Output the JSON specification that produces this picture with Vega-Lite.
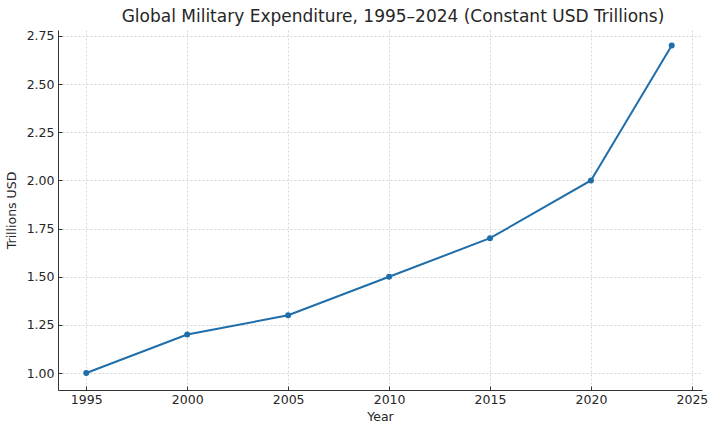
{
  "$schema": "https://vega.github.io/schema/vega-lite/v6.json",
  "width": 644,
  "height": 360,
  "autosize": {"type": "none"},
  "padding": {"left": 58, "top": 30, "right": 18, "bottom": 42},
  "background": "white",
  "title": {
    "text": "Global Military Expenditure, 1995–2024 (Constant USD Trillions)",
    "font": "DejaVu Sans",
    "fontSize": 17,
    "fontWeight": "normal",
    "color": "#262626",
    "offset": 4,
    "dx": 13
  },
  "config": {
    "view": {"stroke": null},
    "axis": {
      "labelFont": "DejaVu Sans",
      "titleFont": "DejaVu Sans",
      "labelFontSize": 12.5,
      "titleFontSize": 12.5,
      "labelColor": "#262626",
      "titleColor": "#262626",
      "titleFontWeight": "normal",
      "domainColor": "#333333",
      "domainWidth": 1,
      "tickColor": "#333333",
      "tickSize": -4,
      "gridColor": "#cccccc",
      "gridDash": [2, 2],
      "gridWidth": 0.8
    }
  },
  "data": {
    "values": [
      {"Year": 1995, "Value": 1.0},
      {"Year": 2000, "Value": 1.2},
      {"Year": 2005, "Value": 1.3},
      {"Year": 2010, "Value": 1.5},
      {"Year": 2015, "Value": 1.7},
      {"Year": 2020, "Value": 2.0},
      {"Year": 2024, "Value": 2.7}
    ]
  },
  "mark": {"type": "line", "color": "#1f6eaa", "strokeWidth": 2, "point": {"filled": true, "size": 36, "color": "#1f6eaa"}},
  "encoding": {
    "x": {
      "field": "Year",
      "type": "quantitative",
      "scale": {"domain": [1993.6, 2025.5], "nice": false, "zero": false},
      "axis": {"values": [1995, 2000, 2005, 2010, 2015, 2020, 2025], "format": "d", "title": "Year", "labelPadding": 7, "titlePadding": 5}
    },
    "y": {
      "field": "Value",
      "type": "quantitative",
      "scale": {"domain": [0.912, 2.781], "nice": false, "zero": false},
      "axis": {"values": [1.0, 1.25, 1.5, 1.75, 2.0, 2.25, 2.5, 2.75], "format": ".2f", "title": "Trillions USD", "labelPadding": 8, "titlePadding": 8}
    }
  }
}
